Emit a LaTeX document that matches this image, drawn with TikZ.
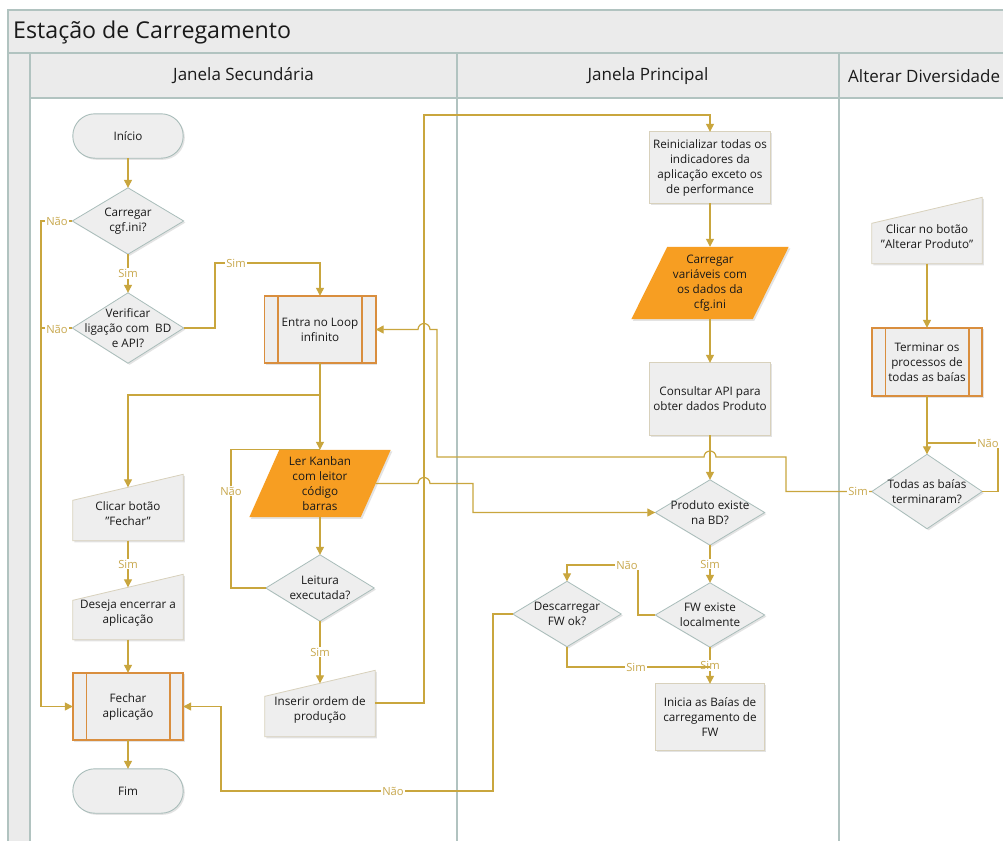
\documentclass[tikz,border=0pt]{standalone}
\usepackage{fontspec}
\setmainfont{Open Sans}
\usetikzlibrary{arrows.meta,shadows,calc}

\definecolor{flowgold}{HTML}{C9A63E}
\definecolor{lblgold}{HTML}{C8A84E}
\definecolor{lanegray}{HTML}{EBEBEB}
\definecolor{laneline}{HTML}{B1C3C0}
\definecolor{boxfill}{HTML}{EEEEEE}
\definecolor{boxline}{HTML}{D8D1BC}
\definecolor{diamline}{HTML}{A9BDBA}
\definecolor{procline}{HTML}{D98E3E}
\definecolor{ioorange}{HTML}{F79E22}
\definecolor{inktext}{HTML}{1A1A1A}

\pgfdeclarelayer{lanes}
\pgfdeclarelayer{shapes}
\pgfsetlayers{lanes,shapes,main}

\tikzset{
  txt/.style={inner sep=0pt, align=center, text=inktext,
              font=\fontsize{11.7}{15}\selectfont},
  sz/.style 2 args={minimum width=#1, minimum height=#2},
  lbl/.style={fill=white, text=lblgold, inner sep=1pt,
              font=\fontsize{11.2}{13}\selectfont},
  flowline/.style={draw=flowgold, line width=1.2pt},
  flow/.style={flowline, -{Triangle[length=8pt,width=8pt]}},
  shadowed/.style={drop shadow={shadow xshift=1.6pt, shadow yshift=-1.6pt, opacity=0.22}},
  rectshape/.style={shadowed, fill=boxfill, draw=boxline, line width=0.8pt},
  diamshape/.style={shadowed, fill=boxfill, draw=diamline, line width=0.8pt},
  termshape/.style={shadowed, fill=boxfill, draw=diamline, line width=0.9pt, rounded corners=22pt},
  procshape/.style={shadowed, fill=boxfill, draw=procline, line width=1.6pt},
  procbar/.style={draw=procline, line width=1.6pt},
  ioshape/.style={shadowed, fill=ioorange},
  lanefill/.style={fill=lanegray},
  lanerule/.style={draw=laneline, line width=1.5pt},
  lanetitle/.style={inner sep=0pt, text=inktext, font=\fontsize{17}{20}\selectfont},
}

\begin{document}
\begin{tikzpicture}[x=1pt,y=-1pt]
\useasboundingbox (0,0) rectangle (1003,841);

% ---------- swimlane frame ----------
\begin{pgfonlayer}{lanes}
  \fill[white] (0,0) rectangle (1003,841);
  \path[lanefill] (8,10) rectangle (1003,53);
  \path[lanefill] (30,53) rectangle (1003,98);
  \path[lanefill] (8,53) rectangle (30,841);
  \path[lanerule] (1003,10) -- (8,10) -- (8,841);
  \path[lanerule] (8,53) -- (1003,53);
  \path[lanerule] (30,98) -- (1003,98);
  \path[lanerule] (30,53) -- (30,841);
  \path[lanerule] (457,53) -- (457,841);
  \path[lanerule] (839,53) -- (839,841);
\end{pgfonlayer}

\node[anchor=west, inner sep=0pt, text=inktext, font=\fontsize{23.2}{28}\selectfont] (title) at (13,32) {Estação de Carregamento};
\node[lanetitle] (laneA) at (243.5,76) {Janela Secundária};
\node[lanetitle] (laneB) at (648,76) {Janela Principal};
\node[lanetitle, anchor=west] (laneC) at (848,76) {Alterar Diversidade};

% ---------- Janela Secundária ----------
\node[txt, sz={110pt}{44pt}] (inicio) at (128,136) {Início};
\node[txt, sz={111pt}{66pt}] (car) at (128,221) {Carregar\\cgf.ini?};
\node[txt, sz={111pt}{70pt}] (ver) at (128,328) {Verificar\\ligação com\ \ BD\\e API?};
\node[txt, sz={111pt}{67pt}] (loop) at (320,329.5) {Entra no Loop\\infinito};
\node[txt, sz={111pt}{67pt}] (kanban) at (320,483.5) {Ler Kanban\\com leitor\\código\\barras};
\node[txt, sz={108pt}{66pt}] (leit) at (320,588) {Leitura\\executada?};
\node[txt, sz={110pt}{53pt}] (ins) at (320,710) {Inserir ordem de\\produção};
\node[txt, sz={110pt}{53pt}] (clicar) at (128,514) {Clicar botão\\"Fechar"};
\node[txt, sz={110pt}{52pt}] (deseja) at (128,613.5) {Deseja encerrar a\\aplicação};
\node[txt, sz={110pt}{67pt}] (fecha) at (128,706.5) {Fechar\\aplicação};
\node[txt, sz={110pt}{44pt}] (fim) at (128,791) {Fim};

% ---------- Janela Principal ----------
\node[txt, sz={121pt}{71pt}] (rein) at (710,167.5) {Reinicializar todas os\\indicadores da\\aplicação exceto os\\de performance};
\node[txt, sz={121pt}{72pt}] (carv) at (710,283) {Carregar\\variáveis com\\os dados da\\cfg.ini};
\node[txt, sz={121pt}{72pt}] (cons) at (710,399) {Consultar API para\\obter dados Produto};
\node[txt, sz={109pt}{65pt}] (prod) at (710,512.5) {Produto existe\\na BD?};
\node[txt, sz={109pt}{64pt}] (fw) at (710,615) {FW existe\\localmente};
\node[txt, sz={108pt}{65pt}] (desc) at (567,614) {Descarregar\\FW ok?};
\node[txt, sz={109pt}{66pt}] (ini) at (710,717) {Inicia as Baías de\\carregamento de\\FW};

% ---------- Alterar Diversidade ----------
\node[txt, sz={110pt}{53pt}] (clicA) at (927,237) {Clicar no botão\\"Alterar Produto"};
\node[txt, sz={110pt}{68pt}] (term) at (927,362) {Terminar os\\processos de\\todas as baías};
\node[txt, sz={110pt}{74pt}] (todas) at (927,491.5) {Todas as baías\\terminaram?};

% ---------- shape outlines behind the texts ----------
\begin{pgfonlayer}{shapes}
  \foreach \n in {inicio,fim}
    \path[termshape] (\n.south west) rectangle (\n.north east);
  \foreach \n in {car,ver,leit,prod,fw,desc,todas}
    \path[diamshape] (\n.north) -- (\n.east) -- (\n.south) -- (\n.west) -- cycle;
  \foreach \n in {rein,cons,ini}
    \path[rectshape] (\n.south west) rectangle (\n.north east);
  \foreach \n in {loop,fecha,term} {
    \path[procshape] (\n.south west) rectangle (\n.north east);
    \path[procbar] ($(\n.north west)+(13.5pt,0)$) -- ($(\n.south west)+(13.5pt,0)$);
    \path[procbar] ($(\n.north east)+(-13.5pt,0)$) -- ($(\n.south east)+(-13.5pt,0)$);
  }
  \path[ioshape] ($(kanban.north west)+(15pt,0)$) -- ($(kanban.north east)+(15pt,0)$)
     -- ($(kanban.south east)+(-15pt,0)$) -- ($(kanban.south west)+(-15pt,0)$) -- cycle;
  \path[ioshape] ($(carv.north west)+(18pt,0)$) -- ($(carv.north east)+(18pt,0)$)
     -- ($(carv.south east)+(-18pt,0)$) -- ($(carv.south west)+(-18pt,0)$) -- cycle;
  \foreach \n in {clicar,deseja,ins,clicA}
    \path[rectshape] (\n.south west) -- (\n.south east) -- ($(\n.north east)+(0,13pt)$)
       -- ($(\n.north west)+(0,-13pt)$) -- cycle;
\end{pgfonlayer}

% ---------- connectors: Janela Secundária ----------
\draw[flow] (inicio) -- (car);
\draw[flow] (car) -- node[lbl] (simA) {Sim} (ver);
\draw[flow] (car.west) -- (41,221) |- (fecha.west);
\node[lbl] (naoA) at (57,221) {Não};
\draw[flowline] (ver.west) -- (41,328);
\node[lbl] (naoB) at (57,329) {Não};
\draw[flow] (ver.east) -- (215,328) |- (320,263) -- (loop.north);
\node[lbl] (simB) at (236,263) {Sim};
\coordinate (split) at (320,395);
\draw[flow] (loop.south) -- (kanban.north);
\draw[flow] (split) -| (clicar.north);
\draw[flow] (kanban.south) -- (leit.north);
\draw[flowline] (leit.west) -- (231,588) |- (kanban.north);
\node[lbl] (naoC) at (231,491) {Não};
\draw[flow] (leit.south) -- node[lbl] (simC) {Sim} (ins.north);
\draw[flow] (clicar.south) -- node[lbl] (simD) {Sim} (deseja.north);
\draw[flow] (deseja) -- (fecha);
\draw[flow] (fecha) -- (fim);
\draw[flow] ($(ins.east)+(0,7pt)$) -- (424,703) -- (424,115) -- (710,115) -- (rein.north);

% ---------- connectors: Janela Principal ----------
\draw[flow] (rein) -- (carv);
\draw[flow] (carv) -- (cons);
\draw[flow] (cons) -- (prod);
\draw[flow] (kanban.east) -- (418,483.5) arc[start angle=180, end angle=0, radius=6pt]
   -- (473,483.5) |- (prod.west);
\draw[flow] (prod) -- node[lbl] (simE) {Sim} (fw);
\draw[flow] (fw) -- node[lbl] (simF) {Sim} (ini);
\draw[flow] (fw.west) -- (638,615) |- (567,565) -- (desc.north);
\node[lbl] (naoD) at (627,565) {Não};
\draw[flowline] (desc.south) |- (710,667);
\node[lbl] (simG) at (636,667) {Sim};
\draw[flow] (desc.west) -- (493,614) -- (493,791) -- (221,791) |- (fecha.east);
\node[lbl] (naoE) at (393,791) {Não};

% ---------- connectors: Alterar Diversidade ----------
\draw[flow] (clicA) -- (term);
\draw[flow] (term) -- (todas);
\draw[flowline] (todas.east) -- (998,491.5) |- (927,443);
\node[lbl] (naoF) at (988,443) {Não};
\draw[flow] (todas.west) -| (786,457) -- (716,457) arc[start angle=0, end angle=180, radius=6pt]
   -- (437,457) -- (437,329.5) -- (430,329.5) arc[start angle=0, end angle=180, radius=6pt]
   -- (loop.east);
\node[lbl] (simH) at (858,491.5) {Sim};

\end{tikzpicture}
\end{document}
